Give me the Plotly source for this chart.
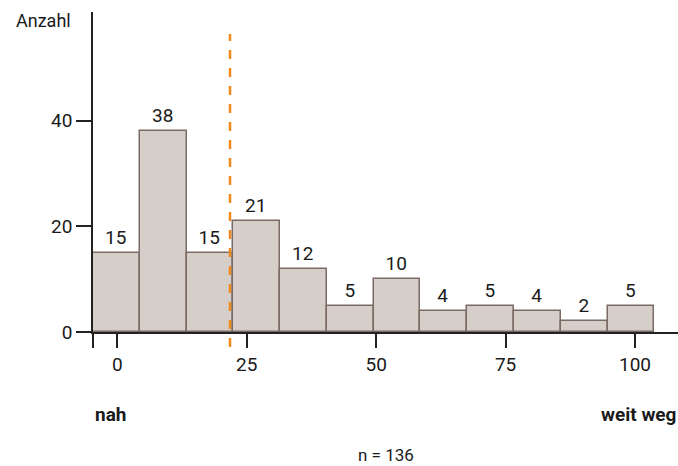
import plotly.graph_objects as go

# bin centres and counts per bin (bin width)
bin_centers = [-0.17, 8.86, 17.90, 26.93, 35.97, 45.0, 54.04, 63.07, 72.11, 81.14, 90.18, 99.21]
counts = [15, 38, 15, 21, 12, 5, 10, 4, 5, 4, 2, 5]
bin_width = 9.035
median_value = 21.77

x_ticks = [-4.69, 0, 25, 50, 75, 100]
x_ticktext = ["", "0", "25", "50", "75", "100"]
y_ticks = [0, 20, 40]

fig = go.Figure()

fig.add_trace(go.Bar(
    x=bin_centers,
    y=counts,
    width=bin_width,
    text=counts,
    textposition="outside",
    textfont=dict(size=19, color="#1a1a1a"),
    cliponaxis=False,
    marker=dict(color="#d5cec9", line=dict(color="#7b6b64", width=1.5)),
    hoverinfo="skip",
))

# median line
fig.add_shape(
    type="line", xref="x", yref="paper",
    x0=median_value, x1=median_value, y0=-0.047, y1=0.931,
    line=dict(color="#f08a1c", width=2.5, dash="dash"),
)

fig.update_layout(
    width=678, height=466,
    margin=dict(l=93, r=0, t=12, b=134),
    plot_bgcolor="white", paper_bgcolor="white",
    font=dict(family="Roboto", size=19, color="#1a1a1a"),
    showlegend=False,
    bargap=0,
)

fig.update_xaxes(
    range=[-4.69, 108.3], tickvals=x_ticks, ticktext=x_ticktext,
    showline=True, linecolor="#222", linewidth=1.5,
    ticks="outside", ticklen=14, tickcolor="#222", tickwidth=1.5,
    showgrid=False, zeroline=False,
)
fig.update_yaxes(
    range=[0, 60.6], tickvals=y_ticks,
    showline=True, linecolor="#222", linewidth=1.5,
    ticks="outside", ticklen=15, tickcolor="#222", tickwidth=1.5,
    showgrid=False, zeroline=False,
)

fig.add_annotation(text="Anzahl", xref="paper", yref="paper", x=-0.034, y=0.975,
                   xanchor="right", yanchor="middle", showarrow=False,
                   font=dict(size=18))
fig.add_annotation(text="<b>nah</b>", xref="paper", yref="paper", x=0, y=-0.259,
                   xanchor="left", yanchor="middle", showarrow=False,
                   font=dict(size=19))
fig.add_annotation(text="<b>weit weg</b>", xref="paper", yref="paper", x=1, y=-0.259,
                   xanchor="right", yanchor="middle", showarrow=False,
                   font=dict(size=19))
fig.add_annotation(text="n = 136", xref="paper", yref="paper", x=0.5, y=-0.385,
                   xanchor="center", yanchor="middle", showarrow=False,
                   font=dict(size=17))

# drop the default page margin so the figure sits at the window's corner
fig.write_html("out.html",
               config={"displayModeBar": False},
               post_script="document.body.style.margin='0';document.body.style.overflow='hidden';")
